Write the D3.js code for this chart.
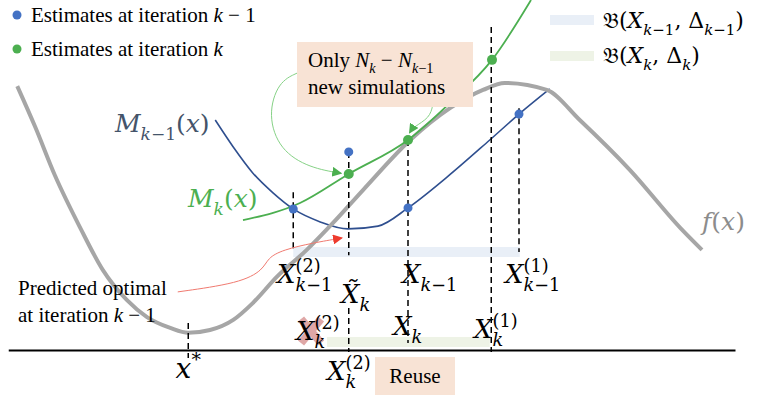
<!DOCTYPE html>
<html>
<head>
<meta charset="utf-8">
<script src="https://cdn.jsdelivr.net/npm/d3@7"></script>
<style>
  body { margin: 0; background: #fff; }
  svg { display: block; }
</style>
</head>
<body>
<div id="chart"></div>
<script>
// all values in plot units: x 0..100, y 0..100 (y = 0 is the axis)
const fCurve = [
  [2.3, 75.4], [4.7, 63.7], [7.3, 50.0], [10.7, 34.9], [13.7, 22.9], [16.9, 14.3],
  [19.6, 9.4], [22.7, 6.3], [25.1, 4.9], [28.0, 5.7], [31.1, 8.6], [33.7, 13.4],
  [36.9, 20.9], [40.9, 28.6], [44.4, 36.3], [48.4, 45.7], [54.7, 60.0], [60.0, 69.1],
  [64.4, 74.3], [67.3, 76.3], [72.9, 74.3], [77.3, 65.7], [84.0, 51.4], [90.7, 34.9],
  [93.6, 28.6]
];
const modelPrev = [
  [28.7, 65.7], [31.1, 58.0], [33.7, 50.6], [36.4, 44.9], [39.1, 40.3], [42.7, 36.6],
  [46.4, 34.6], [50.4, 35.4], [54.4, 40.6], [59.6, 49.4], [65.3, 60.0], [69.2, 67.4],
  [73.3, 74.6]
];
const modelCur = [
  [32.4, 37.1], [40.0, 42.0], [46.5, 50.3], [54.4, 60.0], [60.0, 70.6], [65.6, 82.9], [70.8, 100]
];
const prevEstimates = [[39.1, 40.3], [54.4, 40.6], [69.2, 67.4], [46.5, 56.6]];
const curEstimates = [[46.5, 50.3], [54.4, 60.0], [65.6, 82.9]];

// dashed guides: x, top, bottom
const guides = [
  [39.1, 45.1, 28.0],
  [46.5, 56.6, 27.1],
  [46.5, 12.0, -0.6],
  [54.4, 60.0, 2.0],
  [65.5, 92.3, -0.6],
  [69.2, 69.1, 28.0],
  [25.1, 7.7, -2.3]
];
// trust regions: x0, x1, y
const regionPrev = [39.1, 69.3, 28.0];
const regionCur = [43.6, 65.3, 2.3];

// annotation paths
const noteNewA = [[39.6, 79.1], [37.1, 76.6], [35.7, 67.1], [37.3, 57.1], [41.3, 52.0], [45.5, 50.5]];
const noteNewB = [[57.7, 70.0], [57.3, 66.3], [55.1, 63.7], [54.6, 62.0]];
const notePred = [[23.7, 16.6], [32.0, 19.1], [35.1, 22.9], [35.7, 26.3], [37.7, 28.6], [41.7, 30.6], [45.6, 32.0]];

const W = 757, H = 395;
const serif = '"Liberation Serif", "Times New Roman", serif';
const mathF = '"DejaVu Serif", serif';

const svg = d3.select('#chart').append('svg').attr('width', W).attr('height', H);
const xs = d3.scaleLinear().domain([0, 100]).range([0, 750]);
const ys = d3.scaleLinear().domain([0, 100]).range([350, 0]);

const defs = svg.append('defs');
function arrowHead(id, color) {
  defs.append('marker').attr('id', id).attr('viewBox', '0 0 10 10')
    .attr('refX', 9).attr('refY', 5).attr('markerWidth', 10).attr('markerHeight', 10)
    .attr('markerUnits', 'userSpaceOnUse').attr('orient', 'auto')
    .append('path').attr('d', 'M0,0L10,5L0,10z').attr('fill', color);
}
arrowHead('ag', '#4caf50');
arrowHead('ar', '#ee3b2e');

// rich text: segments [text, kind]; kind: r/i, b=sub, p=sup, x=stack under previous sup
function rich(g, x, y, segs, o) {
  const t = g.append('text').attr('x', x).attr('y', y)
    .style('font-family', o.family || serif).style('font-size', o.size + 'px')
    .attr('fill', o.color || '#000').attr('text-anchor', o.anchor || 'start');
  let shift = 0, supW = 0;
  segs.forEach(([s, k]) => {
    const sub = k.includes('b'), sup = k.includes('p');
    const target = sub ? o.size * 0.3 : sup ? -o.size * 0.42 : 0;
    const ts = t.append('tspan').attr('dy', target - shift)
      .style('font-style', k.includes('i') ? 'italic' : 'normal')
      .style('font-size', (sub || sup ? o.size * 0.68 : o.size) + 'px')
      .text(s);
    if (k.includes('x')) ts.attr('dx', -supW);
    shift = target;
    supW = sup ? supW + ts.node().getComputedTextLength() : 0;
  });
  return t;
}

// trust-region bands
svg.append('rect').attr('x', xs(regionPrev[0])).attr('width', xs(regionPrev[1]) - xs(regionPrev[0]))
  .attr('y', ys(regionPrev[2]) - 5).attr('height', 10).attr('fill', '#e9eff7');
svg.append('rect').attr('x', xs(regionCur[0])).attr('width', xs(regionCur[1]) - xs(regionCur[0]))
  .attr('y', ys(regionCur[2]) - 5).attr('height', 10).attr('fill', '#eef3e6');

// axis line
const axisScale = d3.scaleLinear().domain([1.1, 98]).range([xs(1.1), xs(98)]);
svg.append('g').attr('transform', `translate(0,${ys(0)})`)
  .call(d3.axisBottom(axisScale).tickValues([]).tickSizeOuter(0))
  .select('.domain').attr('stroke', '#000').attr('stroke-width', 2);

const line = d3.line().x(d => xs(d[0])).y(d => ys(d[1])).curve(d3.curveMonotoneX);

svg.append('path').datum(modelPrev).attr('d', line).attr('fill', 'none')
  .attr('stroke', '#2f4f8f').attr('stroke-width', 1.6);
svg.append('path').datum(fCurve).attr('d', line).attr('fill', 'none')
  .attr('stroke', '#a6a6a6').attr('stroke-width', 4);
svg.append('path').datum(modelCur).attr('d', line).attr('fill', 'none')
  .attr('stroke', '#4caf50').attr('stroke-width', 1.8);

// dashed guides
svg.selectAll('.guide').data(guides).enter().append('line').attr('class', 'guide')
  .attr('x1', d => xs(d[0])).attr('x2', d => xs(d[0]))
  .attr('y1', d => ys(d[1])).attr('y2', d => ys(d[2]))
  .attr('stroke', '#000').attr('stroke-width', 1.5).attr('stroke-dasharray', '6,4');

// estimate dots
svg.selectAll('.prev').data(prevEstimates).enter().append('circle')
  .attr('cx', d => xs(d[0])).attr('cy', d => ys(d[1])).attr('r', 4.5).attr('fill', '#4472c4');
svg.selectAll('.cur').data(curEstimates).enter().append('circle')
  .attr('cx', d => xs(d[0])).attr('cy', d => ys(d[1])).attr('r', 5).attr('fill', '#4caf50');

// annotation arrows
const note = d3.line().x(d => xs(d[0])).y(d => ys(d[1])).curve(d3.curveBasis);
svg.append('path').datum(noteNewA).attr('d', note).attr('fill', 'none')
  .attr('stroke', '#86d286').attr('stroke-width', 1).attr('marker-end', 'url(#ag)');
svg.append('path').datum(noteNewB).attr('d', note).attr('fill', 'none')
  .attr('stroke', '#86d286').attr('stroke-width', 1).attr('marker-end', 'url(#ag)');
svg.append('path').datum(notePred).attr('d', note).attr('fill', 'none')
  .attr('stroke', '#f07a70').attr('stroke-width', 1).attr('marker-end', 'url(#ar)');

// callout boxes
svg.append('rect').attr('x', 297).attr('y', 42).attr('width', 176).attr('height', 65).attr('fill', '#f8e3d5');
rich(svg, 308, 67, [['Only ', 'r'], ['N', 'i'], ['k', 'bi'], [' − ', 'r'], ['N', 'i'], ['k', 'bi'], ['−1', 'br']], { size: 21 });
rich(svg, 308, 94, [['new simulations', 'r']], { size: 21 });
svg.append('rect').attr('x', 375).attr('y', 357).attr('width', 80).attr('height', 38).attr('fill', '#f8e3d5');
rich(svg, 415, 383, [['Reuse', 'r']], { size: 21, anchor: 'middle' });

// legend
svg.append('circle').attr('cx', 17).attr('cy', 15).attr('r', 4.5).attr('fill', '#4472c4');
rich(svg, 31, 22, [['Estimates at iteration ', 'r'], ['k', 'i'], [' − 1', 'r']], { size: 21 });
svg.append('circle').attr('cx', 17).attr('cy', 49).attr('r', 4.5).attr('fill', '#4caf50');
rich(svg, 31, 56, [['Estimates at iteration ', 'r'], ['k', 'i']], { size: 21 });

svg.append('rect').attr('x', 550).attr('y', 15).attr('width', 44).attr('height', 10).attr('fill', '#e9eff7');
rich(svg, 603, 28, [['𝔅(', 'r'], ['X', 'i'], ['k', 'bi'], ['−1', 'br'], [', Δ', 'r'], ['k', 'bi'], ['−1', 'br'], [')', 'r']], { size: 22, family: mathF });
svg.append('rect').attr('x', 550).attr('y', 51).attr('width', 44).attr('height', 10).attr('fill', '#eef3e6');
rich(svg, 603, 63, [['𝔅(', 'r'], ['X', 'i'], ['k', 'bi'], [', Δ', 'r'], ['k', 'bi'], [')', 'r']], { size: 22, family: mathF });

// curve labels
rich(svg, 115, 132, [['M', 'i'], ['k', 'bi'], ['−1', 'br'], ['(', 'r'], ['x', 'i'], [')', 'r']], { size: 25, family: mathF, color: '#44546a' });
rich(svg, 188, 207, [['M', 'i'], ['k', 'bi'], ['(', 'r'], ['x', 'i'], [')', 'r']], { size: 25, family: mathF, color: '#4caf50' });
rich(svg, 702, 230, [['f', 'i'], ['(', 'r'], ['x', 'i'], [')', 'r']], { size: 25, family: mathF, color: '#8c8c8c' });

rich(svg, 18, 295, [['Predicted optimal', 'r']], { size: 21 });
rich(svg, 18, 322, [['at iteration ', 'r'], ['k', 'i'], [' − 1', 'r']], { size: 21 });

// discarded point mark
svg.append('path').attr('d', 'M301,319L321,343M321,319L301,343')
  .attr('stroke', '#c0504d').attr('stroke-opacity', 0.5).attr('stroke-width', 8);

// point labels
const lab = { size: 26, family: mathF };
rich(svg, 277, 283, [['X', 'i'], ['(2)', 'pr'], ['k', 'xbi'], ['−1', 'br']], lab);
rich(svg, 341, 303, [['X̃', 'i'], ['k', 'bi']], lab);
rich(svg, 402, 283, [['X', 'i'], ['k', 'bi'], ['−1', 'br']], lab);
rich(svg, 505, 283, [['X', 'i'], ['(1)', 'pr'], ['k', 'xbi'], ['−1', 'br']], lab);
rich(svg, 296, 340, [['X', 'i'], ['(2)', 'pr'], ['k', 'xbi']], lab);
rich(svg, 393, 335, [['X', 'i'], ['k', 'bi']], lab);
rich(svg, 474, 338, [['X', 'i'], ['(1)', 'pr'], ['k', 'xbi']], lab);
rich(svg, 327, 380, [['X', 'i'], ['(2)', 'pr'], ['k', 'xbi']], lab);
rich(svg, xs(25.1), 378, [['x', 'i'], ['*', 'pr']], { size: 28, family: mathF, anchor: 'middle' });
</script>
</body>
</html>
